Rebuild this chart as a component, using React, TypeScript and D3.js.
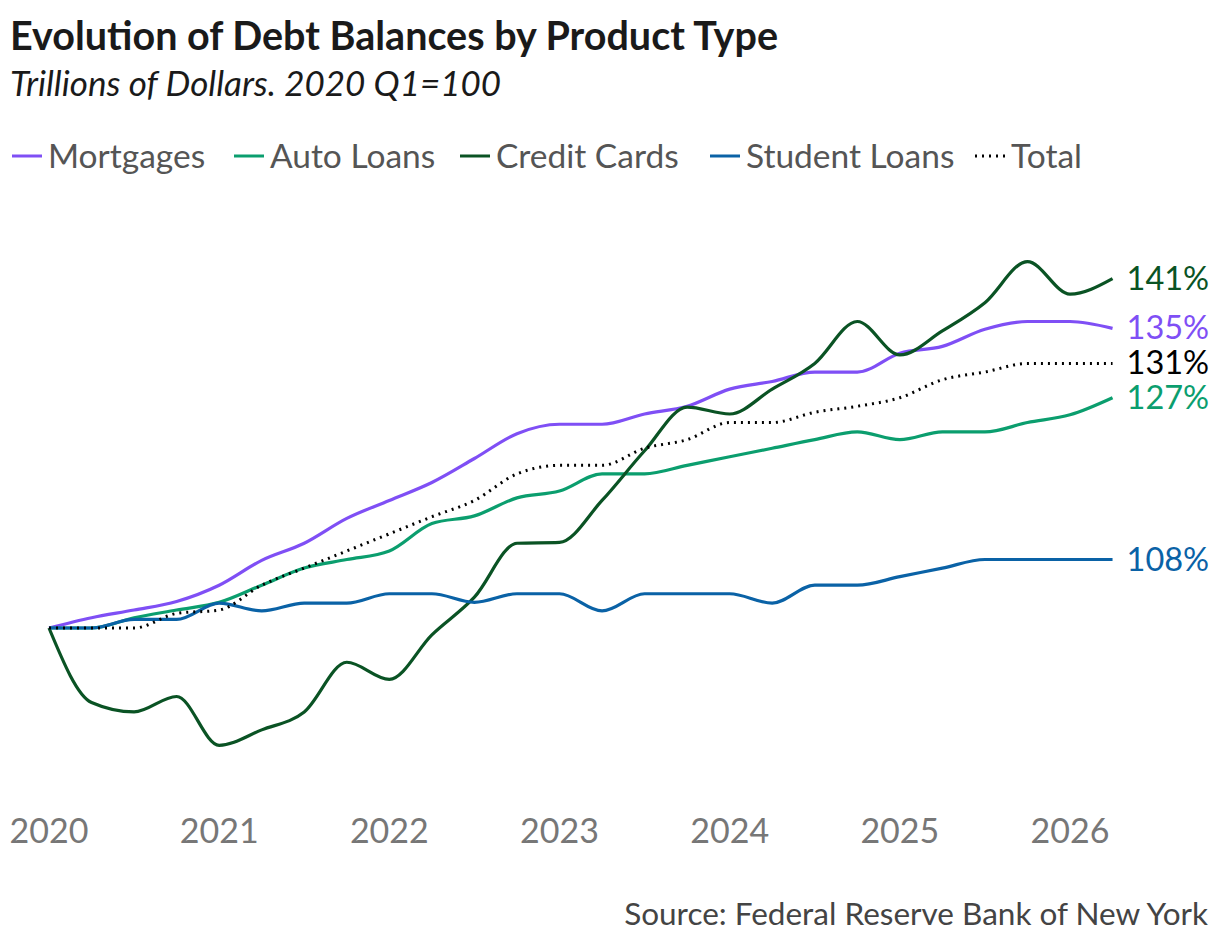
import React from "react";
import * as d3 from "d3";

const quarters = d3.range(26).map((i) => 2020 + i / 4);
const yearTicks = [2020, 2021, 2022, 2023, 2024, 2025, 2026];

const mortgages = [100, 101.2, 102.1, 103.1, 105, 107.9, 109.9, 112.8, 114.9, 117, 119.8, 122.7, 123.8, 123.8, 125, 125.9, 127.9, 128.8, 129.9, 129.9, 132.1, 132.9, 134.9, 135.8, 135.8, 135];
const autoLoans = [100, 100, 101.2, 102.1, 103, 105, 107, 108, 109, 112.2, 113.1, 115.2, 116, 118, 118, 119, 120, 121, 122, 122.9, 122, 122.9, 122.9, 124, 124.9, 126.9];
const creditCards = [100, 91.3, 90.2, 92, 86.3, 88.1, 90.2, 96, 94, 99.2, 103.6, 109.9, 110, 114.9, 120.7, 125.8, 125, 127.9, 130.9, 135.8, 131.9, 134.7, 138, 142.8, 139, 140.8];
const studentLoans = [100, 100, 101, 101, 102.9, 102, 102.9, 102.9, 104, 104, 103, 104, 104, 102, 104, 104, 104, 102.9, 105, 105, 106, 107, 108, 108, 108, 108];
const total = [100, 100, 100, 101.7, 102.1, 105, 107, 109, 111, 113, 114.9, 118, 119, 119, 121, 122, 124, 124, 125.2, 125.9, 126.9, 129, 129.9, 130.9, 130.9, 130.9];

const series = [
  { name: "Mortgages", values: mortgages, color: "#7f4ff5", dash: "" },
  { name: "Auto Loans", values: autoLoans, color: "#0b9e6e", dash: "" },
  { name: "Credit Cards", values: creditCards, color: "#0a5324", dash: "" },
  { name: "Student Loans", values: studentLoans, color: "#0a62a6", dash: "" },
  { name: "Total", values: total, color: "#000000", dash: "2,5" },
];

const legendX = [12, 234, 460, 710, 975];

const App = () => {
  const x = d3.scaleLinear().domain([2020, 2026]).range([49, 1070]);
  const y = d3.scaleLinear().domain([100, 141]).range([628, 277]);
  const line = d3
    .line<number>()
    .x((_, i) => x(quarters[i]))
    .y((d) => y(d))
    .curve(d3.curveMonotoneX);
  const font = "Lato, 'Noto Sans', sans-serif";

  return (
    <svg width={1220} height={942} style={{ position: "absolute", left: 0, top: 0 }} fontFamily={font}>
      <rect width={1220} height={942} fill="#fff" />
      <text x={10} y={50} fontSize={39.5} fontWeight="bold" fill="#1a1a1a">Evolution of Debt Balances by Product Type</text>
      <text x={10} y={96} fontSize={35} fontStyle="italic" fill="#1a1a1a">Trillions of Dollars. 2020 Q1=100</text>
      {series.map((s, i) => (
        <g key={s.name} transform={`translate(${legendX[i]},156)`}>
          <line x1={0} x2={30} y1={0} y2={0} stroke={s.color} strokeWidth={3} strokeDasharray={s.dash} />
          <text x={36} y={12} fontSize={33.5} fill="#555">{s.name}</text>
        </g>
      ))}
      {series.map((s) => (
        <path key={s.name} d={line(s.values) || ""} fill="none" stroke={s.color} strokeWidth={s.dash ? 3 : 3.2} strokeDasharray={s.dash} />
      ))}
      {series.map((s) => {
        const last = s.values[s.values.length - 1];
        return (
          <text key={s.name} x={x(quarters[25]) + 14} y={y(last) + 11} fontSize={32.5} fill={s.color}>
            {Math.round(last)}%
          </text>
        );
      })}
      {yearTicks.map((t) => (
        <text key={t} x={x(t)} y={843} fontSize={34} fill="#777" textAnchor="middle">{t}</text>
      ))}
      <text x={1208} y={925} fontSize={31.5} fill="#444" textAnchor="end">Source: Federal Reserve Bank of New York</text>
    </svg>
  );
};

export default App;
